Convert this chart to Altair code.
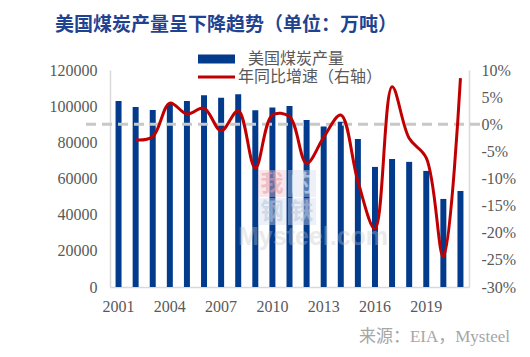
import altair as alt
import pandas as pd

# ---------------- data ----------------
years = list(range(2001, 2022))
output = [102800, 99600, 97900, 101200, 102900, 106000, 104600, 106600, 97800, 99200,
          100100, 92400, 88700, 91400, 81900, 66400, 70800, 69200, 64200, 48700, 53100]
growth_years = list(range(2002, 2022))
growth = [-2.9, -2.3, 3.9, 1.9, 2.95, -1.2, 2.5, -8.1, 1.7, 1.4,
          -7.2, -2.4, 1.7, -10.5, -19.3, 6.9, -2.6, -6.2, -24.5, 8.5]
left_ticks = [0, 20000, 40000, 60000, 80000, 100000, 120000]
right_ticks = [-30, -25, -20, -15, -10, -5, 0, 5, 10]
x_labels = [2001, 2004, 2007, 2010, 2013, 2016, 2019]

bar_name = "美国煤炭产量"
line_name = "年同比增速（右轴）"
title_text = "美国煤炭产量呈下降趋势（单位：万吨）"
source_text = "来源：EIA，Mysteel"

BAR_COLOR = "#023A8C"
LINE_COLOR = "#C00000"
AXIS_GREY = "#D9D9D9"
LABEL_GREY = "#595959"
SERIF = "Liberation Serif, Noto Sans CJK SC"
CJK = "Noto Sans CJK SC"

bars_df = pd.DataFrame({"year": years, "output": output, "series": bar_name})
line_df = pd.DataFrame({"year": growth_years, "growth": growth, "series": line_name})
zero_df = pd.DataFrame({"growth": [0]})

x_enc = alt.X(
    "year:O",
    scale=alt.Scale(domain=years, paddingInner=0.65, paddingOuter=0.325),
    axis=alt.Axis(values=x_labels, title=None, labelAngle=0, ticks=False,
                  domainColor=AXIS_GREY, domainWidth=1.5, labelFont=SERIF,
                  labelFontSize=16, labelColor=LABEL_GREY, labelPadding=11, grid=False),
)

right_scale = alt.Scale(domain=[-30, 10], nice=False, zero=False)
right_axis = alt.Axis(orient="right", values=right_ticks, labelExpr="datum.value + '%'",
                      title=None, ticks=False, grid=False, domainColor=AXIS_GREY,
                      domainWidth=1.5, labelFont=SERIF, labelFontSize=16,
                      labelColor=LABEL_GREY, labelPadding=12)

bars = alt.Chart(bars_df).mark_bar(opacity=1).encode(
    x=x_enc,
    y=alt.Y("output:Q", scale=alt.Scale(domain=[0, 120000], nice=False),
            axis=alt.Axis(orient="left", values=left_ticks, format="d", title=None,
                          ticks=False, grid=False, domainColor=AXIS_GREY, domainWidth=1.5,
                          labelFont=SERIF, labelFontSize=16, labelColor=LABEL_GREY,
                          labelPadding=13)),
    color=alt.Color("series:N", scale=alt.Scale(domain=[bar_name], range=[BAR_COLOR]),
                    legend=None),
)

rule = alt.Chart(zero_df).mark_rule(strokeDash=[10, 6], strokeWidth=3, color="#C8C8C8").encode(
    x=alt.value(-24), x2=alt.value(372),
    y=alt.Y("growth:Q", scale=right_scale, axis=right_axis),
)

line = alt.Chart(line_df).mark_line(interpolate="catmull-rom", strokeWidth=3).encode(
    x=x_enc,
    y=alt.Y("growth:Q", scale=right_scale, axis=right_axis),
    stroke=alt.Stroke("series:N", scale=alt.Scale(domain=[line_name], range=[LINE_COLOR]),
                      legend=None),
)

# ---------------- legend (drawn) ----------------
leg_df = pd.DataFrame({"bar": [bar_name], "line": [line_name]})
leg_bar_swatch = alt.Chart(leg_df).mark_rect(color=BAR_COLOR).encode(
    x=alt.value(88), x2=alt.value(125), y=alt.value(-15.5), y2=alt.value(-6.5))
leg_bar_text = alt.Chart(leg_df).mark_text(
    align="left", baseline="middle", font=CJK, fontSize=16, color=LABEL_GREY
).encode(text="bar:N", x=alt.value(138), y=alt.value(-11))
leg_line_swatch = alt.Chart(leg_df).mark_rule(color=LINE_COLOR, strokeWidth=3).encode(
    x=alt.value(88), x2=alt.value(125), y=alt.value(7))
leg_line_text = alt.Chart(leg_df).mark_text(
    align="left", baseline="middle", font=CJK, fontSize=16, color=LABEL_GREY
).encode(text="line:N", x=alt.value(128), y=alt.value(7))

# ---------------- watermark ----------------
wm_boxes = pd.DataFrame({
    "ch": ["我", "的", "钢", "铁"],
    "x": [148, 178, 148, 178], "y": [100, 100, 128, 128],
    "bg": ["#F0C4CA", "#D3DBEA", "#D3DBEA", "#D3DBEA"],
    "fg": ["#E8A0A9", "#EEF2F8", "#B8C6DD", "#B8C6DD"],
})
wm_rect = alt.Chart(wm_boxes).mark_rect(opacity=0.4).encode(
    x=alt.X("x:Q", scale=None), x2=alt.X2("x2:Q"),
    y=alt.Y("y:Q", scale=None), y2=alt.Y2("y2:Q"),
    fill=alt.Fill("bg:N", scale=None),
).transform_calculate(x2="datum.x + 28", y2="datum.y + 27")
wm_text = alt.Chart(wm_boxes).mark_text(fontSize=23, font=CJK, fontWeight="bold",
                                        opacity=0.55, baseline="middle", align="center").encode(
    x=alt.X("cx:Q", scale=None), y=alt.Y("cy:Q", scale=None),
    text="ch:N", color=alt.Color("fg:N", scale=None),
).transform_calculate(cx="datum.x + 14", cy="datum.y + 14")
wm_logo = alt.Chart(pd.DataFrame({"t": ["Mysteel.com"]})).mark_text(
    align="left", baseline="middle", font="Liberation Sans", fontSize=25, fontWeight="bold",
    color="#C4C4C4", opacity=0.35,
).encode(text="t:N", x=alt.value(128), y=alt.value(167))

# ---------------- texts ----------------
title = alt.Chart(pd.DataFrame({"t": [title_text]})).mark_text(
    align="left", baseline="middle", font=CJK, fontSize=19, fontWeight="bold", color="#1F4390",
).encode(text="t:N", x=alt.value(-55), y=alt.value(-45))

source = alt.Chart(pd.DataFrame({"t": [source_text]})).mark_text(
    align="right", baseline="middle", font="Liberation Serif, Noto Sans CJK SC", fontSize=17,
    color="#A6A6A6",
).encode(text="t:N", x=alt.value(400), y=alt.value(267))

chart = alt.layer(
    bars, wm_rect, wm_text, wm_logo, alt.layer(rule, line),
    leg_bar_swatch, leg_bar_text, leg_line_swatch, leg_line_text, title, source
).resolve_scale(y="independent").properties(
    width=359, height=217, autosize="none",
    padding={"left": 110, "top": 70, "right": 61, "bottom": 70},
    background="white",
).configure_view(stroke=None)

chart.save("out.html", embed_options={"renderer": "svg", "actions": False})
